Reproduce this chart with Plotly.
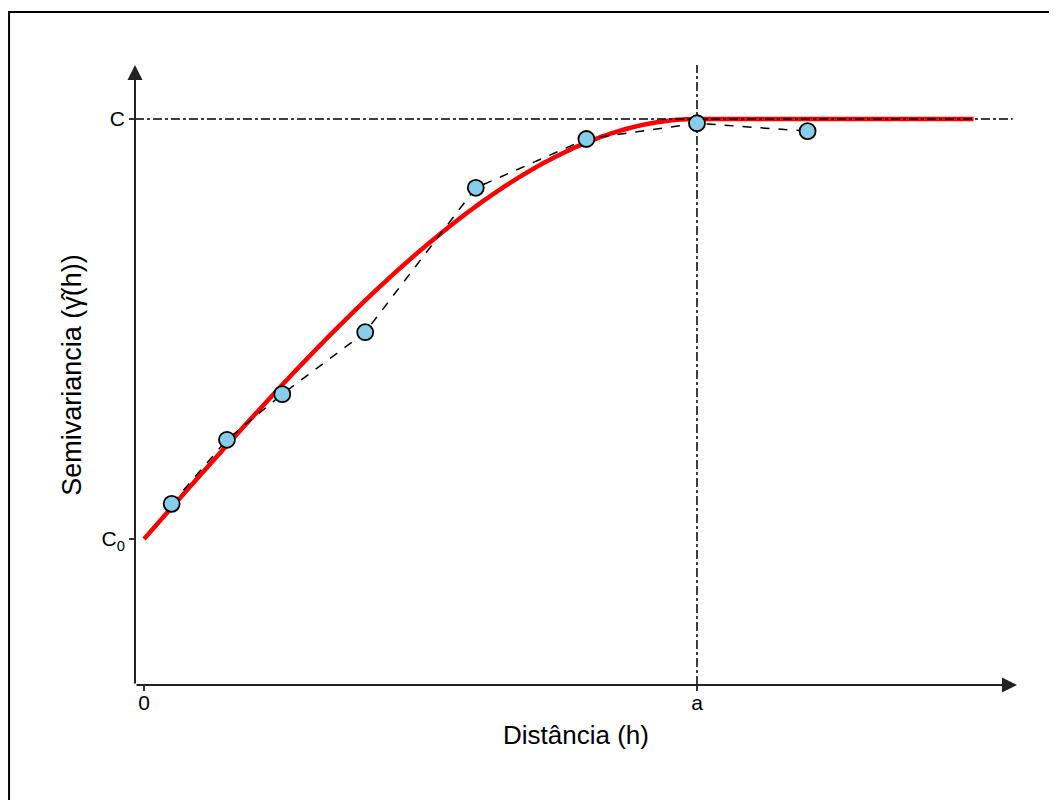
import numpy as np
import plotly.graph_objects as go

lag_h = [0.5, 1.5, 2.5, 4.0, 6.0, 8.0, 10.0, 12.0]
gamma_emp = [2.67, 3.89, 4.76, 5.94, 8.69, 9.62, 9.92, 9.77]

# Spherical model parameters
nugget_c0 = 2.0
sill_c = 10.0
range_a = 10.0
h_max = 15.0

x_tick_vals = [0, range_a]
x_tick_text = ["0", "a"]
y_tick_vals = [nugget_c0, sill_c]
y_tick_text = ["C<sub>0</sub>", "C"]

x_range = [-0.163, 15.787]
y_range = [-0.781, 11.03]

h_model = np.linspace(0, h_max, 301)
r = np.minimum(h_model / range_a, 1.0)
gamma_model = nugget_c0 + (sill_c - nugget_c0) * (1.5 * r - 0.5 * r ** 3)

fig = go.Figure()
fig.add_trace(go.Scatter(x=h_model, y=gamma_model, mode="lines",
                         line=dict(color="#FF0000", width=4.5, simplify=False), hoverinfo="skip"))
fig.add_trace(go.Scatter(x=[x_range[0], 15.71], y=[sill_c, sill_c], mode="lines",
                         line=dict(color="black", width=1.5, dash="dashdot")))
fig.add_trace(go.Scatter(x=[range_a, range_a], y=[y_range[0], y_range[1]], mode="lines",
                         line=dict(color="black", width=1.5, dash="dashdot")))
fig.add_trace(go.Scatter(x=lag_h, y=gamma_emp, mode="lines",
                         line=dict(color="black", width=1.5, dash="dash")))
fig.add_trace(go.Scatter(x=lag_h, y=gamma_emp, mode="markers",
                         marker=dict(color="#87CEEB", size=16,
                                     line=dict(color="black", width=1.8))))

font_family = "Liberation Sans, Arial, sans-serif"

fig.update_layout(
    width=1049, height=792,
    margin=dict(l=127, r=40, t=57, b=115),
    paper_bgcolor="white", plot_bgcolor="white",
    showlegend=False,
    font=dict(family=font_family, color="black"),
    xaxis=dict(range=x_range, showgrid=False, zeroline=False, showline=False,
               tickvals=x_tick_vals, ticktext=x_tick_text,
               ticks="outside", ticklen=5, tickwidth=1.5, tickcolor="#333",
               ticklabelstandoff=-6,
               tickfont=dict(size=21, color="black"),
               title=dict(text="Distância (h)", font=dict(size=26, color="black"), standoff=12)),
    yaxis=dict(range=y_range, showgrid=False, zeroline=False, showline=False,
               tickvals=y_tick_vals, ticktext=y_tick_text,
               ticks="outside", ticklen=5, tickwidth=1.5, tickcolor="#333",
               tickfont=dict(size=21, color="black"),
               title=dict(text="Semivariancia (γ\u0302(h))", font=dict(size=27, color="black"), standoff=12)),
    annotations=[
        dict(x=x_range[1], y=y_range[0], ax=x_range[0], ay=y_range[0],
             xref="x", yref="y", axref="x", ayref="y", text="", showarrow=True,
             arrowhead=2, arrowsize=1.5, arrowwidth=2, arrowcolor="#222"),
        dict(x=x_range[0], y=y_range[1], ax=x_range[0], ay=y_range[0],
             xref="x", yref="y", axref="x", ayref="y", text="", showarrow=True,
             arrowhead=2, arrowsize=1.5, arrowwidth=2, arrowcolor="#222"),
    ],
    shapes=[dict(type="rect", xref="paper", yref="paper",
                 x0=-0.1428, x1=1.3, y0=-0.5, y1=1.0855,
                 line=dict(color="black", width=2), layer="below")],
)

fig.write_html("out.html")
